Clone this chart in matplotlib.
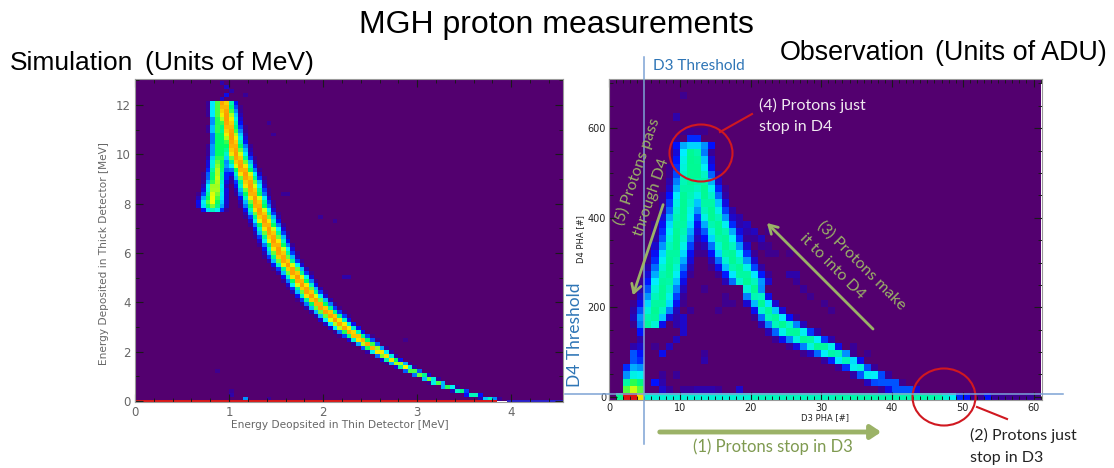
import numpy as np
import matplotlib
matplotlib.use("Agg")
import matplotlib.pyplot as plt
from matplotlib.colors import LinearSegmentedColormap
from matplotlib.patches import Ellipse
from matplotlib.ticker import MultipleLocator

# ---- simulation panel, read row by row (row height 0.16 MeV, first row at 0.08)
sim_main_x = [3.77, 3.60, 3.46, 3.33, 3.22, 3.13, 3.04, 2.95, 2.87, 2.80, 2.73, 2.66, 2.60, 2.53, 2.47,
              2.41, 2.35, 2.29, 2.23, 2.18, 2.13, 2.09, 2.04, 1.99, 1.95, 1.91, 1.87, 1.84, 1.81, 1.78,
              1.75, 1.72, 1.69, 1.66, 1.62, 1.59, 1.56, 1.54, 1.52, 1.50, 1.48, 1.46, 1.44, 1.42, 1.40,
              1.38, 1.36, 1.34, 1.32, 1.30, 1.29, 1.27, 1.25, 1.24, 1.22, 1.21, 1.19, 1.17, 1.15, 1.13,
              1.11, 1.09, 1.07, 1.06, 1.05, 1.04, 1.03, 1.02, 1.01, 1.00, 0.99, 0.98, 0.97, 0.96, 0.95, 0.94]
sim_main_w = [0.06, 0.055, 0.05, 0.05, 0.05, 0.05, 0.05, 0.055, 0.055, 0.06, 0.06, 0.06, 0.065, 0.07, 0.07,
              0.075, 0.08, 0.08, 0.085, 0.085, 0.085, 0.085, 0.085, 0.085, 0.085, 0.085, 0.085, 0.085, 0.085, 0.085,
              0.085, 0.085, 0.085, 0.085, 0.085, 0.085, 0.085, 0.085, 0.085, 0.085, 0.085, 0.085, 0.085, 0.085, 0.085,
              0.085, 0.085, 0.085, 0.085, 0.085, 0.085, 0.085, 0.085, 0.085, 0.085, 0.085, 0.085, 0.085, 0.085, 0.085,
              0.085, 0.085, 0.085, 0.085, 0.085, 0.08, 0.08, 0.08, 0.08, 0.08, 0.08, 0.08, 0.08, 0.08, 0.08, 0.08]
sim_main_peak = [0.45, 0.5, 0.55, 0.58, 0.6, 0.62, 0.64, 0.66, 0.68, 0.7, 0.72, 0.74, 0.76, 0.78, 0.8,
                 0.8, 0.8, 0.8, 0.8, 0.8, 0.82, 0.82, 0.82, 0.82, 0.82, 0.82, 0.82, 0.82, 0.82, 0.82,
                 0.82, 0.82, 0.82, 0.82, 0.82, 0.82, 0.82, 0.82, 0.82, 0.82, 0.82, 0.82, 0.82, 0.82, 0.82,
                 0.82, 0.82, 0.82, 0.82, 0.82, 0.82, 0.82, 0.82, 0.82, 0.82, 0.82, 0.82, 0.82, 0.82, 0.82,
                 0.82, 0.82, 0.82, 0.82, 0.82, 0.82, 0.82, 0.82, 0.82, 0.82, 0.82, 0.82, 0.82, 0.82, 0.82, 0.82]
# second branch starts at row 48 (7.76 MeV)
sim_side_x = [0.83, 0.82, 0.82, 0.83, 0.84, 0.85, 0.85, 0.86, 0.87, 0.87, 0.88, 0.89, 0.89, 0.90,
              0.90, 0.90, 0.90, 0.90, 0.90, 0.90, 0.89, 0.89, 0.89, 0.89, 0.88, 0.88, 0.88, 0.88]
sim_side_w = [0.08, 0.09, 0.09, 0.085, 0.08, 0.075, 0.07, 0.07, 0.07, 0.07, 0.07, 0.07, 0.07, 0.07,
              0.065, 0.065, 0.065, 0.06, 0.06, 0.06, 0.06, 0.06, 0.055, 0.055, 0.055, 0.055, 0.055, 0.055]
sim_side_peak = [0.45, 0.62, 0.68, 0.68, 0.68, 0.68, 0.68, 0.66, 0.66, 0.65, 0.65, 0.64, 0.62, 0.62,
                 0.6, 0.6, 0.6, 0.6, 0.6, 0.6, 0.6, 0.6, 0.6, 0.6, 0.6, 0.6, 0.6, 0.6]
# stray cells: x MeV, y MeV, level
sim_stray_x = [0.92, 0.97, 0.97, 1.00, 0.95, 1.17, 1.42, 1.07, 1.47, 1.62, 1.62, 1.55, 1.98, 2.12,
               2.25, 2.20, 1.75, 1.03, 1.03, 0.87, 2.85, 1.42, 1.17]
sim_stray_y = [12.9, 12.75, 12.45, 12.5, 12.3, 12.45, 11.3, 10.8, 10.8, 8.35, 8.35, 8.4, 7.45, 7.3,
               5.1, 5.0, 5.0, 0.45, 0.2, 1.25, 2.55, 0.1, 0.05]
sim_stray_v = [0.12, 0.15, 0.18, 0.12, 0.15, 0.1, 0.1, 0.12, 0.1, 0.1, 0.08, 0.1, 0.1, 0.1,
               0.12, 0.12, 0.08, 0.1, 0.12, 0.08, 0.08, 0.1, 0.3]

# ---- observation panel (row height 16 ADU, row r centred on 1 + 16 r)
obs_right_y = [257, 273, 289, 305, 321, 337, 353, 369, 385, 401, 417, 433, 449, 465, 481, 497, 513, 529, 545]
obs_right_x = [19.6, 19.0, 18.2, 17.6, 17.1, 16.6, 16.1, 15.7, 15.2, 14.7, 14.3, 14.0, 13.6, 13.3, 13.0,
               12.7, 12.4, 12.2, 12.0]
obs_right_w = [1.9, 1.9, 1.9, 1.9, 1.9, 1.9, 1.9, 1.9, 1.8, 1.8, 1.8, 1.7, 1.7, 1.7, 1.6, 1.6, 1.5, 1.5, 1.4]
obs_left_y = [161, 177, 193, 209, 225, 241, 257, 273, 289, 305, 321, 337, 353, 369, 385, 401, 417, 433,
              449, 465, 481, 497, 513, 529, 545]
obs_left_x = [5.8, 6.1, 6.6, 7.0, 7.3, 7.6, 7.9, 8.2, 8.5, 8.8, 9.0, 9.3, 9.6, 9.8, 10.0, 10.2, 10.4, 10.6,
              10.8, 11.0, 11.2, 11.3, 11.4, 11.5, 11.6]
obs_left_w = [1.2, 1.6, 1.8, 1.8, 1.8, 1.8, 1.8, 1.8, 1.8, 1.8, 1.8, 1.8, 1.8, 1.8, 1.8, 1.8, 1.7, 1.7,
              1.7, 1.6, 1.6, 1.5, 1.5, 1.5, 1.4]
obs_lower_x = [19.5, 20.5, 21.5, 22.5, 23.5, 24.5, 25.5, 26.5, 27.5, 28.5, 29.5, 30.5, 31.5, 32.5, 33.5, 34.5,
               35.5, 36.5, 37.5, 38.5, 39.5, 40.5, 41.5, 42.5, 43.5, 44.5, 45.5]
obs_lower_y = [261, 238, 210, 188, 172, 160, 150, 141, 132, 124, 116, 109, 102, 92, 83, 72, 63, 52, 45, 37,
               31, 24, 17, 13, 12, 11, 10]
obs_lower_w = [34, 32, 30, 26, 24, 22, 20, 19, 18, 17, 17, 16, 16, 15, 15, 14, 14, 13, 12, 12, 11, 10, 9, 7, 5, 4, 3]
obs_lower_peak = [0.5, 0.5, 0.5, 0.5, 0.5, 0.5, 0.5, 0.5, 0.5, 0.5, 0.5, 0.5, 0.5, 0.48, 0.46, 0.44,
                  0.42, 0.4, 0.4, 0.4, 0.4, 0.38, 0.36, 0.32, 0.26, 0.2, 0.14]
# bottom strip, one level per column
obs_strip = [0.0, 0.5, 1.0, 1.0, 0.72, 0.42, 0.42, 0.42, 0.42, 0.42, 0.42, 0.42, 0.42, 0.42, 0.42, 0.42,
             0.42, 0.42, 0.42, 0.42, 0.45, 0.45, 0.45, 0.45, 0.45, 0.45, 0.45, 0.45, 0.45, 0.45, 0.45, 0.45,
             0.47, 0.47, 0.47, 0.47, 0.47, 0.47, 0.47, 0.47, 0.47, 0.47, 0.47, 0.47, 0.47, 0.47, 0.47, 0.42,
             0.38, 0.22, 0.2, 0.1, 0.1, 0.2, 0.1, 0.1, 0.08, 0.08, 0.06, 0.1, 0.06]
# low blob and stray cells: column, row, level
obs_cell_col = [2, 3, 4, 2, 3, 4, 2, 3, 4, 2, 3, 4, 3, 4, 3, 4, 3, 4, 4, 4, 4, 4, 5, 5, 5,
                7, 8, 6, 7, 9, 13, 13, 7, 8, 9, 6, 10, 15, 13, 16, 19, 10, 11, 12, 13, 14, 15, 18,
                9, 10, 9, 10, 11, 16, 17, 21, 20, 25, 26, 26, 27, 28, 30, 31, 34, 36,
                9, 9, 17, 18, 18, 19, 19, 20, 20, 21, 21, 22, 22, 23, 6, 7, 22, 25, 10, 28]
obs_cell_row = [1, 1, 1, 2, 2, 2, 3, 3, 3, 4, 4, 4, 5, 5, 6, 6, 7, 7, 8, 9, 10, 11, 10, 11, 12,
                1, 1, 2, 2, 3, 5, 6, 6, 7, 8, 7, 9, 12, 15, 14, 14, 1, 1, 1, 1, 1, 1, 1,
                10, 10, 11, 11, 12, 13, 13, 14, 13, 17, 17, 16, 15, 14, 13, 12, 7, 6,
                36, 39, 26, 25, 24, 24, 23, 23, 22, 22, 21, 21, 20, 20, 2, 3, 23, 20, 42, 8]
obs_cell_lev = [0.6, 0.66, 0.6, 0.48, 0.58, 0.52, 0.3, 0.4, 0.38, 0.22, 0.32, 0.3, 0.25, 0.22, 0.25, 0.2, 0.12, 0.15, 0.12, 0.2, 0.25, 0.27, 0.15, 0.25, 0.12,
                0.15, 0.1, 0.2, 0.12, 0.1, 0.12, 0.1, 0.18, 0.14, 0.14, 0.08, 0.15, 0.08, 0.08, 0.08, 0.08, 0.1, 0.1, 0.12, 0.12, 0.12, 0.1, 0.15,
                0.12, 0.15, 0.12, 0.15, 0.1, 0.08, 0.08, 0.08, 0.08, 0.12, 0.12, 0.1, 0.1, 0.08, 0.08, 0.08, 0.1, 0.08,
                0.1, 0.12, 0.12, 0.12, 0.12, 0.14, 0.12, 0.14, 0.1, 0.14, 0.1, 0.08, 0.08, 0.08, 0.12, 0.1, 0.06, 0.06, 0.08, 0.06]

sim_xticks = [0, 1, 2, 3, 4]
sim_yticks = [0, 2, 4, 6, 8, 10, 12]
obs_xticks = [0, 10, 20, 30, 40, 50, 60]
obs_yticks = [0, 200, 400, 600]

W, H = 1114, 468
GREEN = "#9bb267"
BLUE = "#2e75b6"
RED = "#d01820"
LINE_BLUE = "#7da3d4"

cmap = LinearSegmentedColormap.from_list("idl", [(0.0, "#53006f"), (0.1, "#380098"), (0.2, "#0010ff"),
                                                 (0.37, "#00f0ff"), (0.56, "#00ff60"), (0.68, "#f0ff00"),
                                                 (0.82, "#ff9a00"), (1.0, "#e01010")])


def paint(grid, i, j, v):
    if 0 <= i < grid.shape[0] and 0 <= j < grid.shape[1]:
        grid[i, j] = max(grid[i, j], v)


# simulation grid
sim_dx, sim_dy = 0.05, 0.16
sim_xe = np.arange(0, 4.55 + sim_dx, sim_dx)
sim_ye = np.arange(0, 13.1 + sim_dy, sim_dy)
sim_xc = (sim_xe[:-1] + sim_xe[1:]) / 2
sim = np.zeros((len(sim_ye) - 1, len(sim_xe) - 1))
for r in range(len(sim_main_x)):
    prof = sim_main_peak[r] * np.exp(-0.5 * ((sim_xc - sim_main_x[r]) / sim_main_w[r]) ** 2)
    sim[r] = np.maximum(sim[r], prof)
for k in range(len(sim_side_x)):
    prof = sim_side_peak[k] * np.exp(-0.5 * ((sim_xc - sim_side_x[k]) / sim_side_w[k]) ** 2)
    sim[48 + k] = np.maximum(sim[48 + k], prof)
for x, y, v in zip(sim_stray_x, sim_stray_y, sim_stray_v):
    paint(sim, int(y / sim_dy), int(x / sim_dx), v)
sim[sim < 0.07] = 0

# observation grid
obs_xe = np.arange(0, 62)
obs_ye = np.arange(-7, 714, 16)
obs_xc = obs_xe[:-1] + 0.5
obs_yc = (obs_ye[:-1] + obs_ye[1:]) / 2
obs = np.zeros((len(obs_yc), len(obs_xc)))
for y, x, w in zip(obs_right_y, obs_right_x, obs_right_w):
    r = (y - 1) // 16
    obs[r] = np.maximum(obs[r], 0.5 * np.exp(-0.5 * ((obs_xc - x) / w) ** 2))
for y, x, w in zip(obs_left_y, obs_left_x, obs_left_w):
    r = (y - 1) // 16
    obs[r] = np.maximum(obs[r], 0.5 * np.exp(-0.5 * ((obs_xc - x) / w) ** 2))
for x, y, w, p in zip(obs_lower_x, obs_lower_y, obs_lower_w, obs_lower_peak):
    c = int(x)
    obs[:, c] = np.maximum(obs[:, c], p * np.exp(-0.5 * ((obs_yc - y) / w) ** 2))
# arm tops fade out into blue
top = (561 - 1) // 16
obs[top, 9:15] = [0.2, 0.32, 0.35, 0.35, 0.3, 0.2]
obs[top + 1, 11:13] = [0.22, 0.22]
obs[top + 2, 10:14] = [0.08, 0.1, 0.08, 0.08]
obs[obs < 0.07] = 0
obs[0] = obs_strip
obs[1:3, 5:] = np.where(obs[1:3, 5:] > 0.25, 0.25, obs[1:3, 5:])
for c, r, v in zip(obs_cell_col, obs_cell_row, obs_cell_lev):
    paint(obs, r, c, v)

plt.rcParams["font.family"] = ["DejaVu Sans"]
fig = plt.figure(figsize=(W / 100, H / 100), dpi=100, facecolor="white")

ax1 = fig.add_axes([135 / W, 1 - 402 / H, 428 / W, 323 / H])
ax1.pcolormesh(sim_xe, sim_ye, sim, cmap=cmap, vmin=0, vmax=1, linewidth=0, rasterized=True)
ax1.axhspan(-0.05, 0.05, xmin=0, xmax=3.85 / 4.55, color="#d81818", lw=0)
ax1.axhspan(-0.05, 0.05, xmin=3.95 / 4.55, xmax=1, color="#2a20c8", lw=0)
ax1.set_xlim(0, 4.55)
ax1.set_ylim(-0.04, 13.05)
ax1.set_xticks(sim_xticks)
ax1.set_yticks(sim_yticks)
ax1.xaxis.set_minor_locator(MultipleLocator(0.2))
ax1.yaxis.set_minor_locator(MultipleLocator(1))

ax2 = fig.add_axes([609 / W, 1 - 400 / H, 433 / W, 321 / H])
ax2.pcolormesh(obs_xe, obs_ye, obs, cmap=cmap, vmin=0, vmax=1, linewidth=0, rasterized=True)
ax2.set_xlim(0, 61.2)
ax2.set_ylim(-7, 710)
ax2.set_xticks(obs_xticks)
ax2.set_yticks(obs_yticks)
ax2.xaxis.set_minor_locator(MultipleLocator(1))
ax2.yaxis.set_minor_locator(MultipleLocator(50))

for ax, col, size, pad in [(ax1, "#666666", 8.5, 3), (ax2, "#222222", 7, 2)]:
    for s in ax.spines.values():
        s.set_color("#9a9a9a")
        s.set_linewidth(0.8)
    ax.tick_params(which="major", direction="in", length=6, width=0.8, color="#1a1a1a", top=True, right=True,
                   labelsize=size, labelcolor=col, pad=pad)
    ax.tick_params(which="minor", direction="in", length=3, width=0.7, color="#1a1a1a", top=True, right=True)

# everything pasted over the two plots goes on a pixel overlay
ov = fig.add_axes([0, 0, 1, 1], zorder=5)
ov.set_xlim(0, W)
ov.set_ylim(H, 0)
ov.axis("off")
ov.patch.set_alpha(0)

ov.text(556, 25, "MGH proton measurements", family="Liberation Sans", fontsize=23, ha="center", va="center", color="black")
ov.text(10, 63, "Simulation", family="Liberation Sans", fontsize=19, ha="left", va="center", color="black")
ov.text(145, 63, "(Units of MeV)", family="Liberation Sans", fontsize=19, ha="left", va="center", color="black")
ov.text(780, 53, "Observation", family="Liberation Sans", fontsize=19.4, ha="left", va="center", color="black")
ov.text(935, 53, "(Units of ADU)", family="Liberation Sans", fontsize=19.4, ha="left", va="center", color="black")

ov.text(104, 254, "Energy Deposited in Thick Detector [MeV]", fontsize=7.6, rotation=90, ha="center", va="center", color="#666666")
ov.text(340, 425, "Energy Deopsited in Thin Detector [MeV]", fontsize=7.6, ha="center", va="center", color="#666666")
ov.text(581, 239, "D4 PHA [#]", fontsize=6, rotation=90, ha="center", va="center", color="#222222")
ov.text(825, 418, "D3 PHA [#]", fontsize=6, ha="center", va="center", color="#222222")

ov.plot([644, 644], [57, 444], color=LINE_BLUE, lw=1.1)
ov.plot([565, 1063], [394, 394], color=LINE_BLUE, lw=1.1)
ov.text(653, 66, "D3 Threshold", family="Lato", fontsize=11, color=BLUE, ha="left", va="center")
ov.text(575, 335, "D4 Threshold", family="Lato", fontsize=12.5, color=BLUE, rotation=90, ha="center", va="center")

ov.text(759, 105, "(4) Protons just", family="Lato", fontsize=11.5, color="#f0eaf0", ha="left", va="center")
ov.text(759, 127, "stop in D4", family="Lato", fontsize=11.5, color="#f0eaf0", ha="left", va="center")
ov.text(970, 435, "(2) Protons just", family="Lato", fontsize=11.5, color="#222222", ha="left", va="center")
ov.text(970, 458, "stop in D3", family="Lato", fontsize=11.5, color="#222222", ha="left", va="center")

ov.text(637, 172, "(5) Protons pass", family="Lato", fontsize=11.5, color=GREEN, rotation=71, ha="center", va="center")
ov.text(652, 197, "through D4", family="Lato", fontsize=11.5, color=GREEN, rotation=71, ha="center", va="center")
ov.text(862, 265, "(3) Protons make", family="Lato", fontsize=11.5, color=GREEN, rotation=-45, ha="center", va="center")
ov.text(832, 267, "it to into D4", family="Lato", fontsize=11.5, color=GREEN, rotation=-45, ha="center", va="center")
ov.text(773, 447, "(1) Protons stop in D3", family="Lato", fontsize=12, color="#7f9a50", ha="center", va="center")

ov.annotate("", xy=(632, 298), xytext=(664, 202), arrowprops=dict(arrowstyle="->,head_length=0.6,head_width=0.35", color=GREEN, lw=2))
ov.annotate("", xy=(765, 221), xytext=(875, 331), arrowprops=dict(arrowstyle="->,head_length=0.6,head_width=0.35", color=GREEN, lw=2))
ov.annotate("", xy=(884, 432), xytext=(657, 432), arrowprops=dict(arrowstyle="-|>,head_length=0.6,head_width=0.4", color=GREEN, lw=3.5))

ov.add_patch(Ellipse((701, 153), 63, 57, fill=False, edgecolor=RED, lw=1.5))
ov.add_patch(Ellipse((944, 397), 63, 57, fill=False, edgecolor=RED, lw=1.5))
ov.plot([720, 752], [132, 114], color=RED, lw=1.5)
ov.plot([977, 1007], [407, 419], color=RED, lw=1.5)

fig.savefig("out.png", dpi=100, facecolor="white")
